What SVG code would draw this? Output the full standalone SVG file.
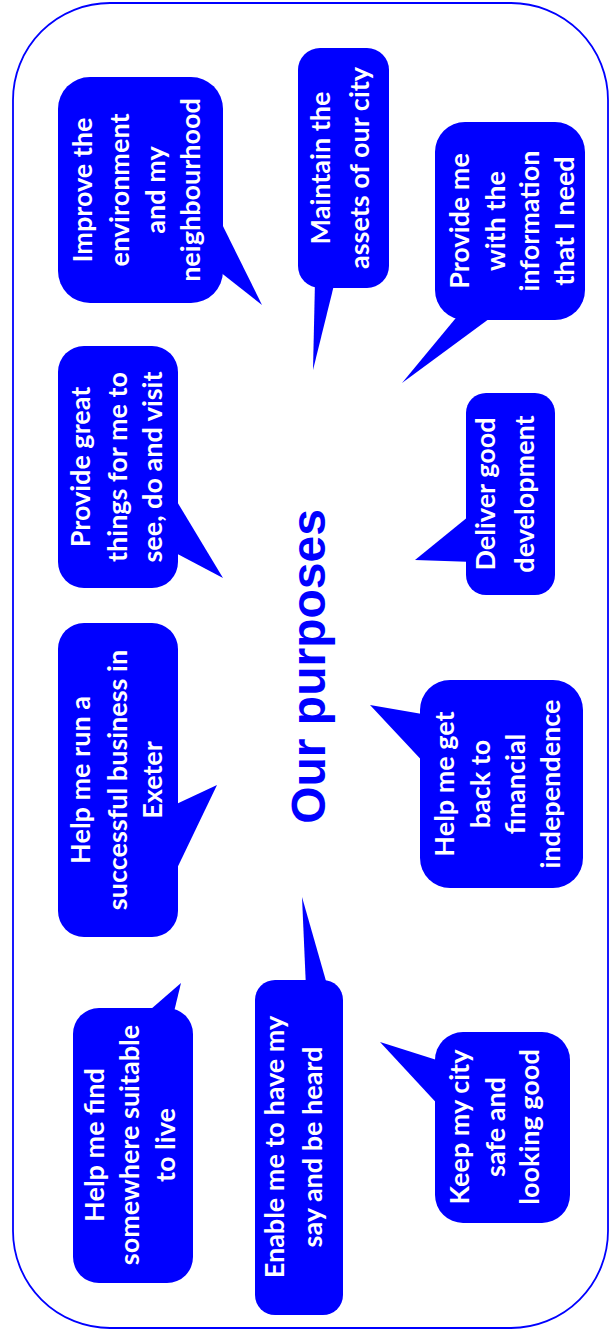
<svg xmlns="http://www.w3.org/2000/svg" width="610" height="1331" viewBox="0 0 610 1331">
<style>
.b{fill:#0000FF}
.t{font-family:Lato,"Liberation Sans",sans-serif;font-weight:bold;font-size:27px;fill:#FFFFFF;text-anchor:middle}
.title{font-family:"Liberation Sans",Arial,sans-serif;font-weight:bold;font-size:48px;fill:#0000FF;text-anchor:middle}
</style>
<rect width="610" height="1331" fill="#FFFFFF"/>
<g transform="matrix(0 -1 1 0 0 1331)">
<rect id="frame" x="3" y="13" width="1325" height="595" rx="97" fill="none" stroke="#0000FF" stroke-width="1.8"/>
<g id="improve">
<rect class="b" x="1028" y="58" width="226" height="165" rx="32"/>
<polygon class="b" points="1063,215 1121,215 1026,262"/>
<text class="t" x="1141" y="92">Improve the</text>
<text class="t" x="1141" y="129">environment</text>
<text class="t" x="1141" y="165">and my</text>
<text class="t" x="1141" y="200">neighbourhood</text>
</g>
<g id="maintain">
<rect class="b" x="1043" y="298" width="240" height="91" rx="22"/>
<polygon class="b" points="1050,315 1050,335 961,313"/>
<text class="t" x="1163" y="330">Maintain the</text>
<text class="t" x="1163" y="369">assets of our city</text>
</g>
<g id="information">
<rect class="b" x="1011" y="435" width="198" height="150" rx="30"/>
<polygon class="b" points="1018,460 1018,497 948,402"/>
<text class="t" x="1110" y="469">Provide me</text>
<text class="t" x="1110" y="505">with the</text>
<text class="t" x="1110" y="539">information</text>
<text class="t" x="1110" y="574">that I need</text>
</g>
<g id="great-things">
<rect class="b" x="743" y="58" width="242" height="120" rx="26"/>
<polygon class="b" points="781,170 841,170 753,223"/>
<text class="t" x="864" y="90">Provide great</text>
<text class="t" x="864" y="127">things for me to</text>
<text class="t" x="864" y="162">see, do and visit</text>
</g>
<g id="development">
<rect class="b" x="736" y="466" width="202" height="89" rx="20"/>
<polygon class="b" points="769,474 819,474 771,415"/>
<text class="t" x="837" y="495">Deliver good</text>
<text class="t" x="837" y="534">development</text>
</g>
<g id="business">
<rect class="b" x="394" y="58" width="314" height="120" rx="26"/>
<polygon class="b" points="448,170 524,170 546,217"/>
<text class="t" x="551" y="90">Help me run a</text>
<text class="t" x="551" y="127">successful business in</text>
<text class="t" x="551" y="162">Exeter</text>
</g>
<g id="financial">
<rect class="b" x="443" y="420" width="208" height="163" rx="30"/>
<polygon class="b" points="564,428 616,428 626,370"/>
<text class="t" x="547" y="454">Help me get</text>
<text class="t" x="547" y="490">back to</text>
<text class="t" x="547" y="525">financial</text>
<text class="t" x="547" y="560">independence</text>
</g>
<g id="live">
<rect class="b" x="48" y="73" width="275" height="120" rx="26"/>
<polygon class="b" points="315,143 315,173 348,181"/>
<text class="t" x="186" y="104">Help me find</text>
<text class="t" x="186" y="139">somewhere suitable</text>
<text class="t" x="186" y="175">to live</text>
</g>
<g id="say">
<rect class="b" x="16" y="255" width="335" height="88" rx="20"/>
<polygon class="b" points="343,306 343,328 434,302"/>
<text class="t" x="184" y="284">Enable me to have my</text>
<text class="t" x="184" y="322">say and be heard</text>
</g>
<g id="safe">
<rect class="b" x="108" y="435" width="191" height="135" rx="28"/>
<polygon class="b" points="221,443 269,443 289,380"/>
<text class="t" x="204" y="469">Keep my city</text>
<text class="t" x="204" y="505">safe and</text>
<text class="t" x="204" y="539">looking good</text>
</g>
<g id="title">
<text class="title" x="664.5" y="325">Our purposes</text>
</g>
</g>
</svg>
